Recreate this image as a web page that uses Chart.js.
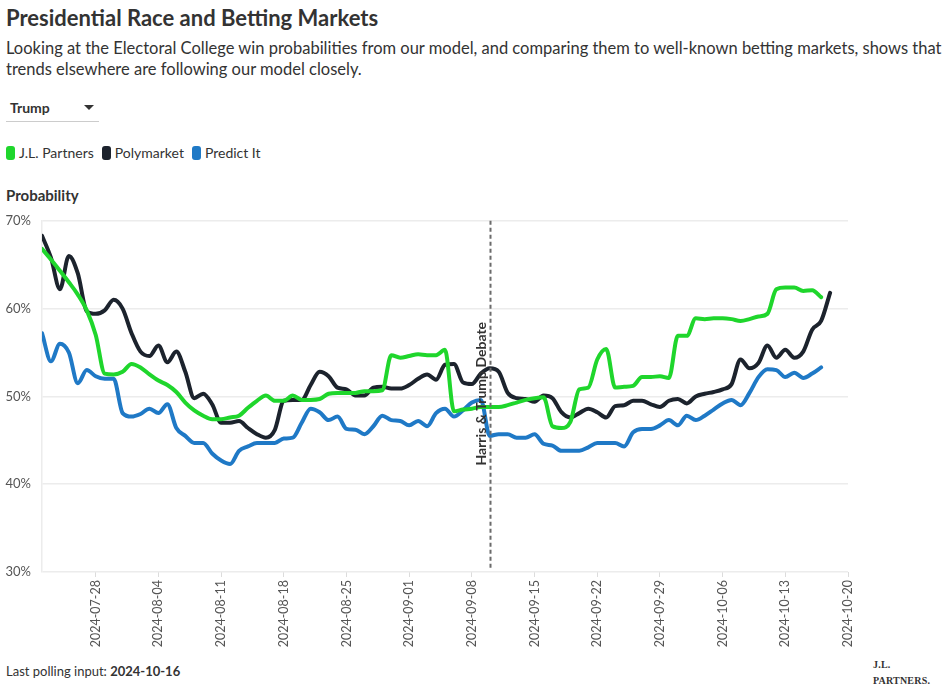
<!DOCTYPE html>
<html>
<head>
<meta charset="utf-8">
<script src="https://cdn.jsdelivr.net/npm/chart.js@4.4.1/dist/chart.umd.min.js"></script>
<style>
  body { margin: 0; width: 950px; height: 691px; background: #fff; font-family: Lato, "Open Sans", sans-serif; color: #333; position: relative; overflow: hidden; }
  .abs { position: absolute; white-space: nowrap; }
  #title { left: 6px; top: 4px; font-size: 22px; font-weight: 700; color: #333; }
  #subtitle { left: 6px; top: 38px; font-size: 16.5px; line-height: 21px; color: #333; }
  #dropdown { left: 10px; top: 99px; font-size: 14px; font-weight: 700; }
  #tri { left: 84px; top: 105px; width: 0; height: 0; border-left: 5px solid transparent; border-right: 5px solid transparent; border-top: 5px solid #333; }
  #underline { left: 6px; top: 121px; width: 93px; height: 1px; background: #ccc; }
  #legend { left: 6px; top: 144px; font-size: 14px; display: flex; align-items: center; }
  .sw { display: inline-block; width: 9px; height: 14px; border-radius: 3px; margin-right: 4px; }
  .item { display: flex; align-items: center; margin-right: 8px; }
  #ylabel { left: 6px; top: 186px; font-size: 15px; font-weight: 700; }
  #wrap { left: 0; top: 202px; }
  #foot { left: 6px; top: 663px; font-size: 13px; }
  #logo { left: 873px; top: 657px; font-family: "Liberation Serif", serif; font-size: 10px; font-weight: 700; line-height: 16px; letter-spacing: 0.2px; }
</style>
</head>
<body>
<div class="abs" id="title">Presidential Race and Betting Markets</div>
<div class="abs" id="subtitle">Looking at the Electoral College win probabilities from our model, and comparing them to well-known betting markets, shows that<br>trends elsewhere are following our model closely.</div>
<div class="abs" id="dropdown">Trump</div>
<div class="abs" id="tri"></div>
<div class="abs" id="underline"></div>
<div class="abs" id="legend"></div>
<div class="abs" id="ylabel">Probability</div>
<div class="abs" id="wrap"><canvas id="chart" width="870" height="458"></canvas></div>
<div class="abs" id="foot">Last polling input: <b>2024-10-16</b></div>
<div class="abs" id="logo">J.L.<br>PARTNERS.</div>
<script>
// 데이터 (2024-07-22 부터 하루 간격)
const startDate = '2024-07-22';
const seriesNames = ['J.L. Partners', 'Polymarket', 'Predict It'];
const seriesColors = ['#1fd62c', '#1c232d', '#1f79c6'];

const jlPartners = [
    66.8, 65.6, 64.3, 63.0, 61.6, 59.8, 57.0, 52.6, 52.5, 52.8,
    53.7, 53.3, 52.5, 51.8, 51.3, 50.5, 49.3, 48.4, 47.8, 47.4,
    47.4, 47.6, 47.8, 48.7, 49.5, 50.1, 49.5, 49.5, 50.1, 49.6,
    49.6, 49.7, 50.3, 50.4, 50.4, 50.4, 50.6, 50.6, 50.7, 54.7,
    54.4, 54.6, 54.8, 54.7, 54.7, 55.3, 48.3, 48.5, 48.6, 48.8,
    48.8, 48.8, 49.0, 49.3, 49.6, 49.8, 49.9, 46.6, 46.4, 47.1,
    50.8, 51.0, 54.2, 55.4, 51.0, 51.1, 51.2, 52.2, 52.2, 52.3,
    52.1, 56.9, 56.9, 58.9, 58.8, 58.9, 58.9, 58.8, 58.6, 58.8,
    59.1, 59.4, 62.2, 62.4, 62.4, 62.0, 62.1, 61.3
];

const polymarket = [
    68.3, 65.8, 62.2, 66.0, 64.0, 59.7, 59.4, 59.8, 61.0, 60.0,
    57.2, 55.1, 54.6, 55.8, 53.9, 55.1, 52.8, 49.8, 50.3, 49.1,
    47.0, 47.0, 47.2, 46.4, 45.7, 45.3, 46.2, 49.5, 49.6, 49.6,
    51.3, 52.8, 52.3, 51.0, 50.8, 50.1, 50.1, 51.0, 51.1, 50.9,
    50.9, 51.3, 52.0, 52.5, 51.9, 53.6, 53.7, 51.6, 51.4, 52.6,
    53.2, 52.8, 50.4, 49.8, 49.7, 49.4, 50.1, 49.8, 48.2, 47.6,
    48.1, 48.6, 48.2, 47.6, 48.9, 49.0, 49.5, 49.5, 49.1, 48.8,
    49.5, 49.7, 49.2, 50.0, 50.3, 50.5, 50.8, 51.4, 54.2, 53.2,
    53.8, 55.8, 54.4, 55.3, 54.4, 55.1, 57.6, 58.6, 61.8
];

const predictIt = [
    57.2, 54.0, 56.0, 55.0, 51.5, 53.0, 52.3, 52.0, 52.0, 48.1,
    47.7, 48.0, 48.6, 48.1, 49.1, 46.4, 45.5, 44.7, 44.7, 43.5,
    42.7, 42.3, 43.8, 44.3, 44.7, 44.7, 44.7, 45.2, 45.3, 47.0,
    48.6, 48.2, 47.3, 47.7, 46.3, 46.2, 45.7, 46.6, 47.8, 47.3,
    47.2, 46.7, 47.2, 46.6, 48.1, 48.6, 47.7, 48.4, 49.3, 49.6,
    45.5, 45.7, 45.7, 45.3, 45.3, 45.7, 44.6, 44.4, 43.8, 43.8,
    43.8, 44.2, 44.7, 44.7, 44.7, 44.3, 45.9, 46.3, 46.3, 46.7,
    47.3, 46.7, 47.8, 47.3, 47.8, 48.5, 49.2, 49.6, 49.0, 50.4,
    52.2, 53.1, 53.0, 52.2, 52.7, 52.1, 52.6, 53.3
];

// x축 눈금 (시작일로부터 일수)
const xTickDays = [6, 13, 20, 27, 34, 41, 48, 55, 62, 69, 76, 83, 90];
const yTicks = [30, 40, 50, 60, 70];
const debateDay = 50;
const debateLabel = 'Harris & Trump Debate';

// 날짜 문자열
function dayToDate(d) {
    const p = startDate.split('-').map(Number);
    return new Date(Date.UTC(p[0], p[1] - 1, p[2] + d)).toISOString().slice(0, 10);
}

// 범례
document.getElementById('legend').innerHTML = seriesNames.map((name, i) =>
    `<span class="item"><span class="sw" style="background:${seriesColors[i]}"></span>${name}</span>`
).join('');

// 토론 표시선
const debatePlugin = {
    id: 'debate',
    afterDatasetsDraw(chart) {
        const { ctx, chartArea, scales } = chart;
        const x = Math.round(scales.x.getPixelForValue(debateDay)) + 0.5;
        ctx.save();
        ctx.strokeStyle = '#6b6b6b';
        ctx.lineWidth = 2;
        ctx.setLineDash([4, 3]);
        ctx.beginPath();
        ctx.moveTo(x, chartArea.top);
        ctx.lineTo(x, chartArea.bottom - 4);
        ctx.stroke();
        ctx.setLineDash([]);
        ctx.translate(x - 9, scales.y.getPixelForValue(50.3));
        ctx.rotate(-Math.PI / 2);
        ctx.font = 'bold 14px Lato';
        ctx.fillStyle = '#333';
        ctx.textAlign = 'center';
        ctx.textBaseline = 'middle';
        ctx.fillText(debateLabel, 0, 0);
        ctx.restore();
    }
};

const allSeries = [jlPartners, polymarket, predictIt];

new Chart(document.getElementById('chart'), {
    type: 'line',
    data: {
        datasets: allSeries.map((values, i) => ({
            label: seriesNames[i],
            data: values.map((v, d) => ({ x: d, y: v })),
            borderColor: seriesColors[i],
            backgroundColor: seriesColors[i],
            borderWidth: 4,
            pointRadius: 0,
            cubicInterpolationMode: 'monotone',
            borderCapStyle: 'round',
            borderJoinStyle: 'round'
        }))
    },
    options: {
        responsive: false,
        animation: false,
        layout: { padding: { top: 11, right: 22, left: 0, bottom: 0 } },
        plugins: {
            legend: { display: false },
            tooltip: { enabled: false }
        },
        scales: {
            x: {
                type: 'linear',
                min: 0,
                max: 90,
                afterBuildTicks: s => { s.ticks = xTickDays.map(v => ({ value: v })); },
                afterFit: s => { s.height = 88; },
                grid: { drawOnChartArea: false, drawTicks: true, tickLength: 5, color: '#dcdcdc' },
                border: { display: false },
                ticks: {
                    autoSkip: false,
                    maxRotation: 90,
                    minRotation: 90,
                    padding: 3,
                    color: '#555',
                    font: { family: 'Lato', size: 12.5 },
                    callback: v => dayToDate(v)
                }
            },
            y: {
                min: 30,
                max: 70,
                afterBuildTicks: s => { s.ticks = yTicks.map(v => ({ value: v })); },
                afterFit: s => { s.width = 42; },
                grid: { color: '#ececec', drawTicks: false, lineWidth: 1.5 },
                border: { display: true, color: '#ececec', width: 1.5 },
                ticks: {
                    padding: 11,
                    color: '#555',
                    font: { family: 'Lato', size: 13 },
                    callback: v => v + '%'
                }
            }
        }
    },
    plugins: [debatePlugin]
});
</script>
</body>
</html>
